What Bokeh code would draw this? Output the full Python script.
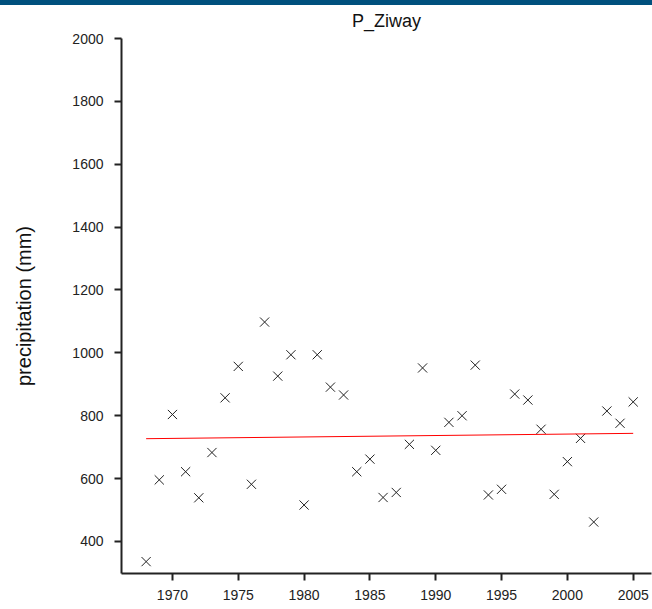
from bokeh.plotting import figure
from bokeh.models import FixedTicker, Range1d, Div, ColumnDataSource
from bokeh.layouts import column
from bokeh.embed import file_html
from bokeh.resources import INLINE

years = list(range(1968, 2006))
precip = [336, 596, 804, 622, 539, 683, 857, 957, 582, 1098,
          926, 994, 516, 994, 891, 866, 622, 662, 540, 556,
          709, 952, 690, 779, 800, 961, 548, 566, 869, 850,
          757, 550, 654, 728, 462, 815, 776, 844]
trend_years = [1968, 2005]
trend_values = [727, 744]
x_ticks = [1970, 1975, 1980, 1985, 1990, 1995, 2000, 2005]
y_ticks = [400, 600, 800, 1000, 1200, 1400, 1600, 1800, 2000]

src = ColumnDataSource(dict(year=years, p=precip))
tsrc = ColumnDataSource(dict(year=trend_years, p=trend_values))

p = figure(width=652, height=604, output_backend="svg", toolbar_location=None,
           x_range=Range1d(1966.13, 2006.39), y_range=Range1d(298.2, 2000),
           min_border_left=121, min_border_right=1, min_border_top=33,
           min_border_bottom=36, title="P_Ziway")
p.title.align = "center"
p.title.vertical_align = "top"
p.title.text_font = "Liberation Sans Narrow, Liberation Sans"
p.title.text_font_size = "18px"
p.title.text_font_style = "normal"
p.title.text_color = "#111111"
p.title.standoff = 11
p.title.offset = 4

p.scatter("year", "p", source=src, marker="x", size=13, line_color="#222222", line_width=1)
p.line("year", "p", source=tsrc, line_color="red", line_width=1)

p.outline_line_color = None
p.xgrid.grid_line_color = None
p.ygrid.grid_line_color = None
p.background_fill_color = "white"
p.border_fill_color = "white"

for ax in (p.xaxis[0], p.yaxis[0]):
    ax.axis_line_width = 2
    ax.axis_line_color = "#222222"
    ax.major_tick_line_width = 2
    ax.major_tick_line_color = "#222222"
    ax.major_tick_out = 7
    ax.major_tick_in = 0
    ax.minor_tick_line_color = None
    ax.major_label_text_font = "Liberation Sans"
    ax.major_label_text_font_size = "14px"
    ax.major_label_text_color = "#222222"

p.xaxis.ticker = FixedTicker(ticks=x_ticks)
p.yaxis.ticker = FixedTicker(ticks=y_ticks)
p.xaxis.major_label_standoff = 9
p.yaxis.major_label_standoff = 11
p.yaxis.axis_label = "precipitation (mm)"
p.yaxis.axis_label_text_font = "Liberation Sans"
p.yaxis.axis_label_text_font_size = "20px"
p.yaxis.axis_label_text_font_style = "normal"
p.yaxis.axis_label_text_color = "#111111"
p.yaxis.axis_label_standoff = 34

bar = Div(text="", width=652, height=5, styles={"background-color": "#00507D"}, margin=0)
layout = column(bar, p, spacing=0)

open("out.html", "w").write(file_html(layout, INLINE))
